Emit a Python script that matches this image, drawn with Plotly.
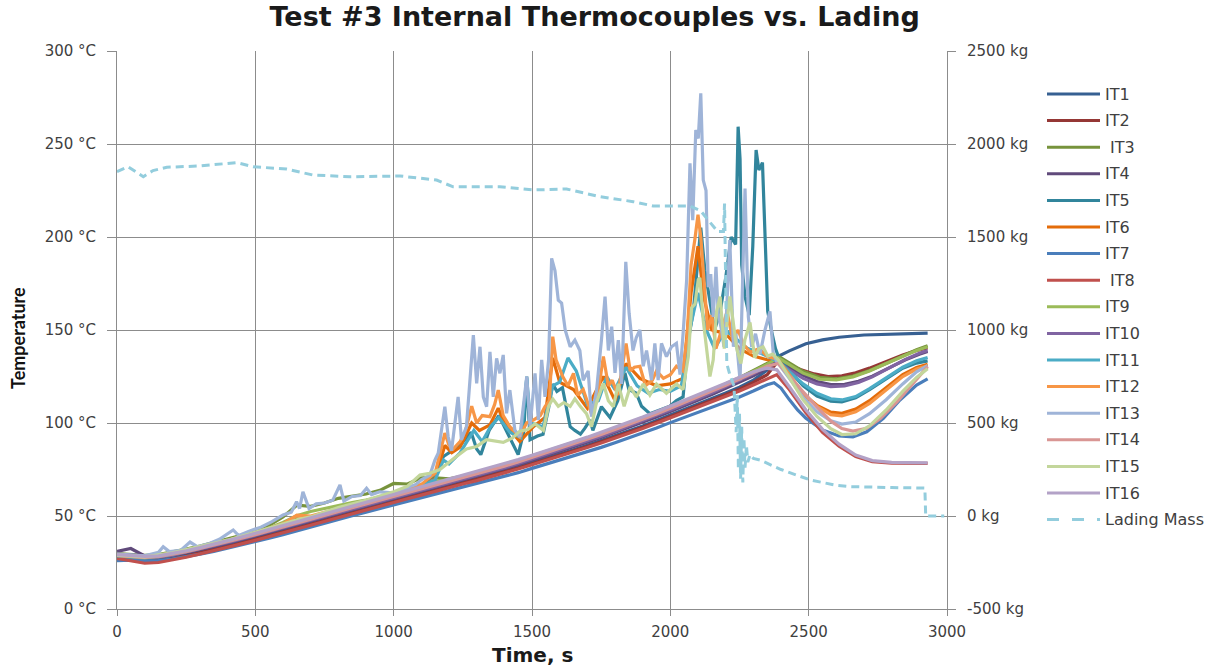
import plotly.graph_objects as go

# ---- time base shared by the smoother thermocouples (0 .. 2350 s, every 50 s)
t_base = [0, 50, 100, 150, 200, 250, 300, 350, 400, 450, 500, 550, 600, 650, 700, 750,
          800, 850, 900, 950, 1000, 1050, 1100, 1150, 1200, 1250, 1300, 1350, 1400, 1450,
          1500, 1550, 1600, 1650, 1700, 1750, 1800, 1850, 1900, 1950, 2000, 2050, 2100,
          2150, 2200, 2250, 2300, 2350]

# ---- smoother thermocouples: heating part on t_base, then the cool-down samples
it1_heat = [28.5, 28.0, 27.0, 27.2, 28.2, 29.6, 31.2, 32.9, 34.6, 36.5, 38.3, 40.3, 42.4, 44.4, 46.4, 48.4,
            50.5, 52.5, 54.5, 56.5, 58.6, 60.5, 62.4, 64.4, 66.4, 68.3, 70.2, 72.1, 74.1, 76.4,
            78.7, 80.9, 83.2, 85.6, 88.0, 90.5, 93.1, 95.7, 98.4, 101.3, 104.2, 107.1, 110.0,
            113.0, 116.1, 119.3, 123.0, 128.5]
it1_cool_t = [2385, 2430, 2490, 2550, 2610, 2700, 2800, 2930]
it1_cool = [135.5, 138.8, 142.6, 144.7, 146.1, 147.3, 147.9, 148.3]

it2_heat = [28.0, 27.2, 25.8, 26.0, 27.0, 28.5, 30.2, 31.9, 33.6, 35.5, 37.3, 39.3, 41.3, 43.4, 45.5, 47.4,
            49.6, 51.6, 53.6, 55.6, 57.8, 59.6, 61.6, 63.6, 65.7, 67.6, 69.5, 71.4, 73.4, 75.8,
            78.1, 80.3, 82.6, 85.0, 87.4, 89.9, 92.5, 95.0, 97.7, 100.6, 103.5, 106.3, 109.2,
            112.0, 115.1, 118.2, 121.8, 126.0]
it2_cool_t = [2390, 2430, 2470, 2520, 2570, 2620, 2670, 2720, 2780, 2840, 2890, 2930]
it2_cool = [133.5, 131.0, 128.8, 126.4, 125.0, 125.4, 127.0, 129.5, 133.0, 136.6, 139.0, 140.3]

it3_heat = [29.8, 29.5, 28.8, 29.2, 30.5, 32.2, 33.8, 35.6, 37.5, 39.6, 41.8, 45.0, 49.5, 55.8, 55.2, 57.0,
            59.5, 60.6, 61.8, 63.8, 67.5, 67.2, 70.5, 70.5, 70.0, 71.5, 73.4, 75.4, 77.5, 79.8,
            82.2, 84.5, 86.9, 89.4, 91.9, 94.5, 97.2, 99.9, 102.7, 105.6, 108.6, 111.6, 114.6,
            117.8, 121.0, 124.4, 128.0, 132.0]
it3_cool_t = [2390, 2430, 2480, 2540, 2600, 2660, 2720, 2780, 2840, 2890, 2930]
it3_cool = [136.0, 132.5, 127.8, 124.6, 123.8, 125.2, 128.2, 132.0, 136.0, 139.4, 141.5]

it4_heat = [31.0, 32.5, 28.5, 28.0, 28.8, 30.3, 31.9, 33.6, 35.4, 37.3, 39.2, 41.1, 43.2, 45.3, 47.3, 49.3,
            51.4, 53.4, 55.4, 57.4, 59.5, 61.5, 63.4, 65.4, 67.4, 69.3, 71.3, 73.2, 75.3, 77.6,
            80.0, 82.3, 84.6, 87.1, 89.6, 92.2, 94.9, 97.5, 100.3, 103.2, 106.2, 109.1, 112.2,
            115.3, 118.6, 121.9, 125.4, 129.5]
it4_cool_t = [2390, 2430, 2480, 2530, 2580, 2630, 2680, 2730, 2790, 2850, 2900, 2930]
it4_cool = [133.0, 129.8, 125.6, 122.3, 120.6, 120.8, 122.4, 125.2, 129.6, 134.0, 137.0, 138.4]

it7_heat = [26.0, 26.3, 25.7, 26.0, 26.9, 28.0, 29.5, 31.0, 32.7, 34.4, 36.2, 38.1, 40.0, 42.1, 44.1, 46.0,
            48.2, 50.1, 52.1, 54.0, 56.2, 58.0, 59.8, 61.7, 63.7, 65.5, 67.4, 69.2, 71.1, 73.3,
            75.6, 77.8, 80.0, 82.2, 84.5, 86.9, 89.4, 91.9, 94.5, 97.3, 100.2, 102.9, 105.6,
            108.3, 111.2, 114.0, 117.2, 120.6]
it7_cool_t = [2375, 2400, 2430, 2460, 2490, 2550, 2610, 2660, 2710, 2770, 2830, 2890, 2930]
it7_cool = [121.6, 118.8, 112.6, 107.0, 102.6, 96.3, 93.0, 92.6, 95.3, 102.5, 112.4, 120.4, 123.7]

it8_heat = [27.2, 26.0, 24.6, 25.0, 26.3, 27.8, 29.6, 31.3, 33.0, 35.0, 36.9, 38.8, 40.9, 43.0, 45.0, 47.1,
            49.2, 51.2, 53.3, 55.2, 57.4, 59.3, 61.2, 63.3, 65.3, 67.2, 69.0, 71.0, 73.0, 75.3,
            77.6, 79.8, 82.0, 84.4, 86.8, 89.3, 91.8, 94.4, 97.0, 99.9, 102.8, 105.6, 108.4,
            111.2, 114.2, 117.2, 120.4, 123.8]
it8_cool_t = [2385, 2430, 2490, 2550, 2610, 2670, 2730, 2800, 2870, 2930]
it8_cool = [126.0, 118.0, 105.5, 95.0, 87.5, 82.0, 79.2, 78.4, 78.3, 78.3]

it9_heat = [29.5, 29.0, 28.4, 28.8, 30.0, 31.8, 33.4, 35.2, 37.0, 39.0, 41.0, 43.5, 46.5, 50.2, 52.4, 54.0,
            55.8, 57.2, 58.6, 60.2, 62.8, 64.0, 66.2, 68.5, 69.5, 71.2, 73.1, 75.0, 77.1, 79.4,
            81.8, 84.1, 86.5, 89.0, 91.5, 94.1, 96.8, 99.5, 102.3, 105.2, 108.2, 111.2, 114.2,
            117.4, 120.6, 124.0, 127.6, 131.5]
it9_cool_t = [2390, 2430, 2480, 2540, 2600, 2660, 2720, 2780, 2840, 2890, 2930]
it9_cool = [135.0, 131.5, 126.8, 123.6, 123.2, 124.8, 128.0, 132.0, 135.8, 139.0, 141.0]

it10_heat = [29.5, 29.0, 28.2, 28.0, 29.0, 30.6, 32.3, 34.0, 35.8, 37.7, 39.6, 41.6, 43.6, 45.7, 47.7, 49.7,
             51.8, 53.8, 55.8, 57.8, 60.0, 61.9, 63.9, 65.9, 67.9, 69.8, 71.8, 73.8, 75.9, 78.2,
             80.6, 82.9, 85.3, 87.8, 90.3, 92.9, 95.6, 98.3, 101.1, 104.1, 107.0, 110.0, 113.1,
             116.3, 119.6, 122.9, 126.5, 130.3]
it10_cool_t = [2390, 2430, 2480, 2530, 2580, 2630, 2680, 2730, 2790, 2850, 2900, 2930]
it10_cool = [132.5, 128.5, 124.0, 121.0, 119.6, 120.0, 121.8, 124.8, 129.5, 134.2, 137.5, 139.0]

it14_heat = [28.8, 28.4, 27.8, 28.2, 29.3, 30.8, 32.5, 34.2, 36.1, 38.0, 40.0, 42.0, 44.1, 46.2, 48.2, 50.3,
             52.4, 54.4, 56.5, 58.5, 60.6, 62.6, 64.6, 66.7, 68.7, 70.7, 72.7, 74.7, 76.8, 79.1,
             81.5, 83.8, 86.2, 88.7, 91.2, 93.8, 96.5, 99.2, 102.0, 104.9, 107.9, 110.9, 114.0,
             117.1, 120.3, 123.6, 127.0, 130.5]
it14_cool_t = [2390, 2430, 2480, 2530, 2580, 2620, 2660, 2710, 2760, 2820, 2880, 2930]
it14_cool = [132.0, 125.5, 116.8, 108.5, 101.0, 97.0, 95.6, 97.2, 102.5, 111.5, 122.0, 130.3]

it16_heat = [29.2, 28.8, 28.3, 28.6, 29.8, 31.3, 33.0, 34.8, 36.7, 38.7, 40.7, 42.7, 44.8, 46.9, 49.0, 51.1,
             53.2, 55.3, 57.4, 59.4, 61.5, 63.5, 65.6, 67.7, 69.8, 71.8, 73.9, 75.9, 78.0, 80.3,
             82.7, 85.0, 87.4, 89.9, 92.4, 95.0, 97.7, 100.4, 103.2, 106.1, 109.1, 112.1, 115.1,
             118.2, 121.4, 124.6, 127.6, 129.5]
it16_cool_t = [2385, 2430, 2490, 2550, 2610, 2670, 2730, 2800, 2870, 2930]
it16_cool = [128.6, 119.5, 107.0, 96.6, 88.6, 82.8, 79.8, 78.8, 78.6, 78.6]

# ---- thermocouples with strong fluctuations (own time stamps, s)
it5_t = [0, 100, 200, 300, 400, 500, 600, 700, 800, 900, 1000, 1100, 1150, 1180, 1210, 1240, 1280, 1300,
         1315, 1345, 1380, 1420, 1450, 1470, 1481, 1493, 1520, 1540, 1560, 1575, 1590, 1610, 1638, 1655,
         1675, 1690, 1710, 1720, 1751, 1782, 1810, 1836, 1850, 1877, 1896, 1926, 1962, 1998, 2022, 2046,
         2065, 2083, 2098, 2110, 2125, 2140, 2160, 2180, 2200, 2220, 2236, 2245, 2252, 2258, 2270, 2285,
         2298, 2310, 2320, 2333, 2342, 2352, 2365, 2380, 2395, 2430, 2480, 2530, 2580, 2620, 2670, 2720,
         2780, 2840, 2890, 2930]
it5_v = [27.8, 27.0, 29.0, 32.5, 36.2, 40.4, 44.5, 48.8, 53.2, 57.4, 62.0, 66.0, 73.0, 82.0, 85.0, 88.0, 95.0, 86.0,
         83.0, 96.0, 104.0, 92.0, 83.0, 95.0, 125.0, 91.0, 93.0, 94.0, 108.0, 121.0, 117.0, 119.0, 98.0, 96.0,
         94.0, 97.0, 101.6, 96.0, 108.8, 103.0, 112.0, 127.0, 118.0, 116.0, 109.0, 105.0, 107.0, 109.0, 112.0, 114.0,
         144.6, 160.0, 185.0, 205.0, 182.0, 168.0, 150.0, 160.0, 178.0, 200.0, 196.0, 259.3, 242.0, 185.0, 168.0, 158.0,
         195.0, 246.8, 236.0, 240.0, 205.0, 160.0, 150.0, 140.0, 134.0, 128.0, 120.0, 114.5, 111.8, 111.3, 113.5, 118.0,
         124.0, 129.5, 132.2, 133.4]

it6_t = [0, 100, 200, 300, 400, 500, 600, 650, 700, 800, 900, 1000, 1100, 1150, 1185, 1210, 1240, 1282, 1310,
         1348, 1378, 1400, 1456, 1505, 1547, 1575, 1600, 1650, 1700, 1758, 1800, 1840, 1890, 1950, 2000, 2045,
         2075, 2100, 2120, 2150, 2200, 2250, 2300, 2350, 2390, 2430, 2480, 2530, 2580, 2620, 2670, 2720, 2780,
         2840, 2890, 2930]
it6_v = [28.6, 27.4, 29.6, 32.8, 36.4, 40.4, 44.8, 48.5, 48.0, 52.6, 56.8, 61.0, 65.5, 70.0, 88.0, 84.0, 87.0, 100.0, 96.0,
         99.0, 108.0, 100.0, 90.0, 98.0, 103.0, 135.0, 122.0, 118.0, 108.0, 125.0, 112.0, 132.0, 124.0, 120.0, 121.0, 124.0,
         170.0, 195.0, 168.0, 150.0, 148.0, 140.0, 136.0, 134.0, 133.5, 125.0, 115.5, 109.5, 105.8, 105.2, 107.5, 112.0, 119.0,
         126.0, 129.8, 131.5]

it11_t = [0, 100, 200, 300, 400, 500, 600, 700, 800, 900, 1000, 1100, 1150, 1180, 1200, 1240, 1290, 1320, 1350,
          1380, 1420, 1460, 1481, 1495, 1540, 1575, 1600, 1630, 1660, 1700, 1740, 1770, 1800, 1840, 1880, 1920,
          1960, 2000, 2040, 2070, 2100, 2130, 2160, 2200, 2240, 2280, 2320, 2360, 2390, 2430, 2480, 2530, 2580,
          2620, 2670, 2720, 2780, 2840, 2890, 2930]
it11_v = [28.5, 27.5, 29.5, 32.8, 36.5, 40.6, 45.0, 49.2, 53.5, 57.5, 61.5, 66.0, 69.5, 80.0, 78.0, 84.0, 96.0, 90.0, 98.0,
          103.0, 95.0, 92.0, 124.0, 100.0, 98.0, 120.0, 122.0, 135.0, 128.0, 110.0, 112.0, 125.0, 118.0, 130.0, 120.0, 116.0,
          118.0, 117.0, 120.0, 150.0, 170.0, 150.0, 140.0, 150.0, 145.0, 140.0, 138.0, 135.0, 133.0, 127.6, 121.0, 116.0, 113.0,
          112.4, 114.2, 118.5, 124.5, 130.0, 133.5, 135.2]

it12_t = [0, 100, 200, 300, 400, 500, 600, 650, 700, 800, 900, 1000, 1100, 1150, 1185, 1200, 1215, 1240, 1260,
          1282, 1300, 1320, 1348, 1365, 1378, 1396, 1420, 1456, 1480, 1505, 1530, 1547, 1563, 1575, 1587, 1611,
          1630, 1650, 1665, 1685, 1700, 1715, 1735, 1758, 1776, 1790, 1810, 1840, 1855, 1870, 1890, 1910, 1935,
          1950, 1975, 2000, 2022, 2045, 2060, 2075, 2088, 2100, 2110, 2122, 2135, 2150, 2165, 2185, 2205, 2225,
          2245, 2265, 2290, 2320, 2350, 2390, 2430, 2480, 2530, 2580, 2620, 2670, 2720, 2780, 2840, 2890, 2930]
it12_v = [28.8, 27.8, 30.0, 33.2, 36.8, 41.0, 45.8, 50.5, 50.0, 54.0, 58.0, 62.5, 67.0, 73.0, 94.6, 88.0, 86.0, 90.0, 96.0,
          109.0, 100.0, 104.0, 103.4, 110.0, 117.7, 104.0, 98.0, 92.6, 100.0, 101.6, 104.0, 108.8, 112.0, 146.4, 133.9, 125.0,
          120.0, 126.7, 115.0, 118.0, 112.0, 105.0, 112.0, 135.7, 120.0, 123.0, 115.0, 142.8, 128.0, 130.0, 130.5, 120.0, 123.0,
          128.0, 124.0, 126.0, 130.5, 128.0, 145.0, 185.0, 198.0, 212.0, 200.0, 175.0, 150.0, 158.0, 140.0, 150.0, 160.0, 145.0,
          150.0, 142.0, 138.0, 140.0, 136.0, 134.0, 126.0, 116.0, 109.0, 104.5, 103.8, 106.0, 110.5, 118.0, 125.0, 129.0, 130.8]

it13_t = [0, 50, 100, 150, 167, 190, 230, 264, 290, 330, 370, 420, 440, 480, 520, 560, 600, 630, 649, 660, 672,
          694, 720, 750, 780, 806, 820, 850, 880, 902, 920, 950, 980, 1011, 1040, 1059, 1080, 1100, 1131, 1149,
          1161, 1185, 1197, 1209, 1233, 1245, 1263, 1288, 1300, 1312, 1324, 1336, 1348, 1360, 1372, 1384, 1396,
          1408, 1420, 1438, 1456, 1468, 1481, 1493, 1511, 1523, 1535, 1547, 1560, 1571, 1583, 1595, 1607, 1620,
          1638, 1655, 1673, 1685, 1703, 1715, 1733, 1751, 1764, 1776, 1788, 1800, 1812, 1824, 1839, 1851, 1865,
          1877, 1890, 1902, 1914, 1932, 1944, 1956, 1968, 1986, 2004, 2022, 2035, 2047, 2059, 2071, 2081, 2092,
          2101, 2110, 2119, 2129, 2137, 2146, 2155, 2165, 2173, 2185, 2194, 2203, 2215, 2228, 2237, 2252, 2270,
          2282, 2294, 2308, 2324, 2342, 2360, 2372, 2385, 2430, 2480, 2530, 2580, 2620, 2670, 2720, 2780, 2840,
          2890, 2930]
it13_v = [29.5, 29.0, 28.6, 30.5, 33.5, 30.8, 31.5, 36.0, 33.5, 35.0, 37.5, 42.5, 39.5, 42.0, 44.0, 47.0, 50.5, 52.0, 57.7,
          54.0, 63.0, 54.0, 56.5, 57.0, 58.5, 66.7, 58.0, 60.5, 61.0, 64.9, 61.5, 63.0, 62.5, 62.3, 64.0, 65.8, 67.0, 69.5,
          72.0, 80.0, 83.8, 108.8, 92.6, 85.0, 114.0, 90.9, 98.0, 147.3, 121.3, 141.0, 114.0, 108.8, 138.3, 114.0, 134.8,
          126.7, 136.6, 105.2, 117.7, 96.2, 92.6, 108.8, 124.9, 98.0, 126.7, 101.6, 133.9, 114.0, 134.0, 188.5, 182.0, 166.0,
          164.5, 150.0, 141.0, 144.6, 139.0, 123.0, 128.0, 103.4, 117.0, 144.6, 168.0, 139.0, 151.8, 127.0, 144.6, 121.0,
          186.7, 159.0, 139.0, 146.0, 150.0, 130.5, 139.0, 123.0, 142.8, 123.0, 142.8, 135.7, 141.0, 142.8, 126.0, 150.0,
          177.0, 239.6, 209.0, 257.5, 253.0, 277.2, 230.6, 225.0, 173.0, 180.0, 157.0, 184.0, 159.0, 150.0, 141.0, 159.0,
          198.4, 141.0, 148.0, 123.0, 226.0, 157.0, 141.0, 148.0, 137.0, 150.0, 160.0, 137.5, 133.0, 124.0, 113.8, 106.0,
          101.2, 99.4, 100.5, 105.0, 112.5, 121.0, 127.5, 130.8]

it15_t = [0, 100, 200, 300, 400, 500, 600, 650, 700, 800, 900, 1000, 1050, 1095, 1130, 1167, 1215, 1263, 1300,
          1336, 1396, 1430, 1456, 1485, 1511, 1541, 1560, 1575, 1595, 1615, 1638, 1655, 1675, 1697, 1715, 1733,
          1758, 1776, 1794, 1812, 1833, 1855, 1877, 1902, 1926, 1950, 1986, 2022, 2046, 2065, 2077, 2089, 2101,
          2107, 2119, 2131, 2143, 2155, 2167, 2180, 2195, 2215, 2228, 2240, 2255, 2270, 2288, 2305, 2320, 2335,
          2352, 2370, 2390, 2430, 2480, 2530, 2580, 2620, 2670, 2720, 2780, 2840, 2890, 2930]
it15_v = [29.0, 28.0, 30.2, 33.5, 37.0, 41.2, 45.5, 48.0, 49.5, 54.5, 58.5, 63.0, 66.0, 72.0, 73.0, 75.0, 80.7, 86.0, 87.4,
          91.0, 89.6, 92.0, 95.6, 96.5, 99.6, 96.0, 109.0, 113.0, 109.0, 111.0, 109.0, 113.0, 108.8, 105.0, 98.0, 111.0,
          121.3, 112.0, 108.8, 121.0, 109.0, 119.5, 114.0, 121.0, 115.0, 121.0, 116.0, 121.0, 118.0, 135.7, 162.0, 164.0,
          177.0, 178.0, 155.0, 141.0, 125.0, 134.0, 160.0, 168.0, 140.0, 168.0, 152.0, 140.0, 132.0, 145.0, 154.0, 135.0,
          140.0, 141.0, 136.0, 137.0, 134.0, 124.5, 112.5, 103.5, 97.0, 93.8, 94.2, 98.5, 107.0, 117.0, 124.5, 129.2]

# ---- lading mass, kg (secondary axis)
lading_t = [0, 40, 95, 130, 180, 300, 432, 492, 613, 709, 842, 1023, 1155, 1215, 1384, 1505, 1625, 1745, 1866,
            1938, 2070, 2110, 2171, 2192, 2196, 2200, 2204, 2215, 2230, 2238, 2242, 2246, 2250, 2254, 2258,
            2262, 2266, 2270, 2275, 2280, 2288, 2300, 2324, 2400, 2505, 2600, 2649, 2800, 2913, 2920, 2923, 2990]
lading_kg = [1851, 1878, 1824, 1857, 1875, 1882, 1900, 1878, 1865, 1833, 1824, 1828, 1806, 1770, 1770, 1753, 1758, 1717, 1690,
             1667, 1667, 1640, 1529, 1529, 1680, 1300, 820, 760, 700, 450, 650, 250, 550, 200, 480,
             180, 420, 260, 380, 290, 330, 310, 301, 250, 194, 165, 158, 153, 150, 150, 0, 0]

# ---- secondary-axis ticks (kg)
mass_ticks = [-500, 0, 500, 1000, 1500, 2000, 2500]
mass_tick_text = ["-500 kg", "0 kg", "500 kg", "1000 kg", "1500 kg", "2000 kg", "2500 kg"]

names = ["IT1", "IT2", "IT3", "IT4", "IT5", "IT6", "IT7", "IT8", "IT9", "IT10",
         "IT11", "IT12", "IT13", "IT14", "IT15", "IT16"]
legend_labels = ["IT1", "IT2", " IT3", "IT4", "IT5", "IT6", "IT7", " IT8", "IT9", "IT10",
                 "IT11", "IT12", "IT13", "IT14", "IT15", "IT16"]
colors = ["#376092", "#953735", "#77933C", "#604A7B", "#31859C", "#E46C0A", "#4A7EBB", "#C0504D",
          "#9BBB59", "#8064A2", "#4BACC6", "#F79646", "#9FB4D8", "#D99694", "#C3D69B", "#B3A2C7"]
lading_name = "Lading Mass"
lading_color = "#93CDDD"

series = {
    "IT1": (t_base + it1_cool_t, it1_heat + it1_cool),
    "IT2": (t_base + it2_cool_t, it2_heat + it2_cool),
    "IT3": (t_base + it3_cool_t, it3_heat + it3_cool),
    "IT4": (t_base + it4_cool_t, it4_heat + it4_cool),
    "IT5": (it5_t, it5_v),
    "IT6": (it6_t, it6_v),
    "IT7": (t_base + it7_cool_t, it7_heat + it7_cool),
    "IT8": (t_base + it8_cool_t, it8_heat + it8_cool),
    "IT9": (t_base + it9_cool_t, it9_heat + it9_cool),
    "IT10": (t_base + it10_cool_t, it10_heat + it10_cool),
    "IT11": (it11_t, it11_v),
    "IT12": (it12_t, it12_v),
    "IT13": (it13_t, it13_v),
    "IT14": (t_base + it14_cool_t, it14_heat + it14_cool),
    "IT15": (it15_t, it15_v),
    "IT16": (t_base + it16_cool_t, it16_heat + it16_cool),
}

LINE_W = 3.2
fig = go.Figure()
for name, col in zip(names, colors):
    tx, ty = series[name]
    fig.add_trace(go.Scatter(x=tx, y=ty, mode="lines", name=name, showlegend=False,
                             line=dict(color=col, width=LINE_W)))

fig.add_trace(go.Scatter(x=lading_t, y=lading_kg, mode="lines", name=lading_name,
                         showlegend=False, yaxis="y2",
                         line=dict(color=lading_color, width=3.0, dash="8px,5px")))

# ---- legend column to the right of the plot (paper coordinates)
PLOT_L, PLOT_R, PLOT_T, PLOT_B = 117, 947, 51, 609


def px_to_paper_x(px):
    return (px - PLOT_L) / (PLOT_R - PLOT_L)


def px_to_paper_y(py):
    return (PLOT_B - py) / (PLOT_B - PLOT_T)


legend_font = dict(family="DejaVu Sans, sans-serif", size=16, color="#404040")
row0, row_step = 94.0, 26.6
shapes, annotations = [], []
entries = list(zip(legend_labels, colors, ["solid"] * 16)) + [(lading_name, lading_color, "12px,13px")]
for i, (label, col, dash) in enumerate(entries):
    yy = px_to_paper_y(row0 + i * row_step)
    shapes.append(dict(type="line", xref="paper", yref="paper",
                       x0=px_to_paper_x(1047), x1=px_to_paper_x(1100), y0=yy, y1=yy,
                       line=dict(color=col, width=3, dash=dash)))
    annotations.append(dict(text=label.replace(" ", "\u00a0"), xref="paper", yref="paper",
                            x=px_to_paper_x(1103), y=yy, xanchor="left", yanchor="middle",
                            showarrow=False, font=legend_font))

title_font = dict(family="DejaVu Sans, sans-serif", size=20, color="#1a1a1a")
annotations.append(dict(text="<b>Time, s</b>", xref="paper", yref="paper",
                        x=0.5, y=px_to_paper_y(655), xanchor="center", yanchor="middle",
                        showarrow=False, font=title_font))
annotations.append(dict(text="<b>Temperature</b>", xref="paper", yref="paper",
                        x=px_to_paper_x(18), y=px_to_paper_y(338), xanchor="center", yanchor="middle",
                        textangle=-90, showarrow=False,
                        font=dict(family="Lato, sans-serif", size=18, color="#111111")))

tick_font = dict(family="DejaVu Sans, sans-serif", size=15, color="#404040")
grid = "#8C8C8C"

fig.update_layout(
    width=1221, height=666,
    margin=dict(l=PLOT_L, r=1221 - PLOT_R, t=PLOT_T, b=666 - PLOT_B),
    paper_bgcolor="white", plot_bgcolor="white",
    showlegend=False,
    shapes=shapes, annotations=annotations,
    title=dict(text="<b>Test #3 Internal Thermocouples vs. Lading</b>",
               x=0.487, xanchor="center", y=1 - 17 / 666, yanchor="middle",
               font=dict(family="DejaVu Sans, sans-serif", size=27, color="#1a1a1a")),
    xaxis=dict(range=[0, 3000], dtick=500, tick0=0, showgrid=True, gridcolor=grid, gridwidth=1,
               showline=True, linecolor=grid, linewidth=1, zeroline=False,
               ticks="outside", ticklen=6, tickcolor=grid, tickfont=tick_font,
               ticklabelstandoff=3),
    yaxis=dict(range=[0, 300], dtick=50, tick0=0, ticksuffix=" °C", showgrid=True,
               gridcolor=grid, gridwidth=1, showline=True, linecolor=grid, linewidth=1,
               zeroline=False, ticks="outside", ticklen=9, tickcolor=grid, tickfont=tick_font,
               ticklabelstandoff=8),
    yaxis2=dict(range=[-500, 2500], tickmode="array", tickvals=mass_ticks, ticktext=mass_tick_text,
                overlaying="y", side="right", showgrid=False, showline=True, linecolor=grid,
                linewidth=1, zeroline=False, ticks="outside", ticklen=8, tickcolor=grid,
                tickfont=tick_font, ticklabelstandoff=8),
)

fig.write_html("out.html")
